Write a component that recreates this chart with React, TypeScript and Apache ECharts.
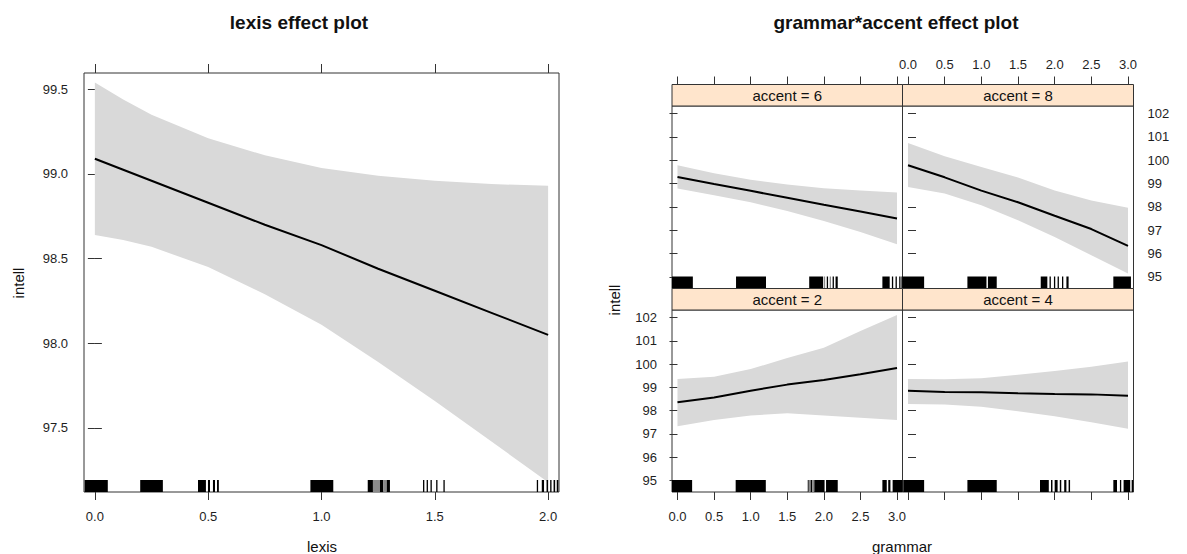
import React, { useEffect, useRef } from "react";
import * as echarts from "echarts";

const FONT = '"Liberation Sans", Arial, Helvetica, sans-serif';
const INK = "#1e1e1e";
const FRAME = "#333333";
const BAND = "#d9d9d9";
const STRIP = "#ffe5cc";

// ---- lexis effect ----
const lexisX = [0, 0.125, 0.25, 0.5, 0.75, 1, 1.25, 1.5, 1.75, 2];
const lexisFit = [99.09, 99.025, 98.96, 98.83, 98.7, 98.58, 98.44, 98.31, 98.18, 98.05];
const lexisUpper = [99.54, 99.44, 99.35, 99.21, 99.11, 99.035, 98.99, 98.96, 98.94, 98.93];
const lexisLower = [98.64, 98.61, 98.57, 98.45, 98.29, 98.11, 97.89, 97.66, 97.42, 97.18];
const lexisTicks = [0, 0.5, 1, 1.5, 2];
const lexisIntellTicks = [97.5, 98, 98.5, 99, 99.5];
// rug marks: [from, to, grey]
const lexisRug = [
  [-0.045, 0.057, 0], [0.2, 0.3, 0],
  [0.455, 0.49, 0], [0.499, 0.508, 0], [0.521, 0.53, 0], [0.539, 0.547, 0],
  [0.951, 1.052, 0],
  [1.204, 1.227, 0], [1.227, 1.258, 1], [1.258, 1.273, 0], [1.273, 1.288, 1], [1.288, 1.302, 0],
  [1.448, 1.448, 0], [1.464, 1.464, 0], [1.481, 1.484, 0], [1.506, 1.506, 0], [1.538, 1.538, 0],
  [1.95, 1.95, 0], [1.972, 1.982, 0], [1.993, 2.0, 0], [2.009, 2.015, 0], [2.024, 2.031, 0], [2.038, 2.045, 0],
];

// ---- grammar*accent effect ----
const grammarX = [0, 0.5, 1, 1.5, 2, 2.5, 3];
const grammarTicks = [0, 0.5, 1, 1.5, 2, 2.5, 3];
const accentIntellTicks = [95, 96, 97, 98, 99, 100, 101, 102];

const fit6 = [99.28, 98.98, 98.69, 98.39, 98.09, 97.8, 97.5];
const upper6 = [99.79, 99.45, 99.17, 98.96, 98.8, 98.7, 98.62];
const lower6 = [98.79, 98.5, 98.2, 97.83, 97.4, 96.92, 96.4];

const fit8 = [99.79, 99.27, 98.7, 98.2, 97.62, 97.05, 96.33];
const upper8 = [100.74, 100.17, 99.71, 99.26, 98.7, 98.28, 97.96];
const lower8 = [98.86, 98.58, 98.07, 97.43, 96.71, 95.93, 95.14];

const fit2 = [98.36, 98.57, 98.86, 99.12, 99.32, 99.57, 99.83];
const upper2 = [99.36, 99.46, 99.79, 100.26, 100.71, 101.43, 102.12];
const lower2 = [97.33, 97.6, 97.79, 97.89, 97.79, 97.69, 97.6];

const fit4 = [98.86, 98.8, 98.79, 98.75, 98.72, 98.7, 98.64];
const upper4 = [99.36, 99.35, 99.39, 99.54, 99.71, 99.89, 100.11];
const lower4 = [98.29, 98.26, 98.17, 97.97, 97.76, 97.5, 97.22];

const rug6 = [
  [-0.075, 0.21, 0], [0.8, 1.21, 0],
  [1.8, 1.99, 0], [2.0, 2.01, 1], [2.04, 2.05, 0], [2.08, 2.09, 1], [2.12, 2.13, 0], [2.16, 2.19, 0],
  [2.8, 2.9, 0], [2.93, 2.94, 0], [2.98, 2.99, 0], [3.03, 3.04, 0], [3.06, 3.075, 0],
];
const rug8 = [
  [-0.075, 0.22, 0], [0.81, 1.07, 0], [1.09, 1.21, 0],
  [1.81, 1.9, 0], [1.93, 1.94, 0], [1.99, 2.0, 0], [2.04, 2.05, 0], [2.1, 2.11, 0], [2.16, 2.19, 0],
  [2.8, 3.04, 0],
];
const rug2 = [
  [-0.075, 0.2, 0], [0.795, 1.207, 0],
  [1.78, 1.79, 0], [1.79, 1.82, 1], [1.82, 1.84, 0], [1.84, 1.87, 1], [1.87, 2.01, 0], [2.03, 2.19, 0],
  [2.8, 2.86, 0], [2.88, 2.91, 0], [2.94, 3.075, 0],
];
const rug4 = [
  [-0.065, 0.22, 0], [0.81, 1.21, 0],
  [1.8, 1.92, 0], [1.95, 1.97, 0], [2.0, 2.04, 0], [2.07, 2.09, 0], [2.13, 2.16, 0], [2.19, 2.21, 0],
  [2.8, 2.85, 0], [2.89, 2.9, 0], [2.94, 3.03, 0], [3.05, 3.07, 0],
];

const LEXIS_MIN = -0.048, LEXIS_MAX = 2.048;
const LINTELL_MIN = 97.122, LINTELL_MAX = 99.596;
const GRAM_MIN = -0.075, GRAM_MAX = 3.075;
const AINTELL_MIN = 94.5, AINTELL_MAX = 102.33;

const labelStyle = { fontFamily: FONT, fontSize: 13, color: INK };

function xAxisDef(grid: number, pos: string, min: number, max: number, ticks: number[], opts: any) {
  return {
    type: "value", gridIndex: grid, position: pos, min, max,
    offset: opts.offset || 0,
    axisLine: { show: false },
    splitLine: { show: false },
    axisTick: { show: true, length: opts.tick || 8, customValues: ticks, lineStyle: { color: FRAME, width: 1 } },
    axisLabel: {
      show: !!opts.labels, customValues: ticks, margin: opts.margin || 16,
      formatter: (v: number) => v.toFixed(1), ...labelStyle,
    },
  };
}

function yAxisDef(grid: number, pos: string, min: number, max: number, ticks: number[], opts: any) {
  return {
    type: "value", gridIndex: grid, position: pos, min, max,
    axisLine: { show: false },
    splitLine: { show: false },
    axisTick: { show: true, length: opts.tick || 8, customValues: ticks, lineStyle: { color: FRAME, width: 1 } },
    axisLabel: {
      show: !!opts.labels, customValues: ticks, margin: opts.margin || 15,
      formatter: opts.fmt || ((v: number) => String(v)), ...labelStyle,
    },
  };
}

function bandSeries(xi: number, yi: number, xs: number[], lo: number[], hi: number[]) {
  return {
    type: "custom", xAxisIndex: xi, yAxisIndex: yi, silent: true, z: 1,
    data: [[xs[0], lo[0]]],
    renderItem: (_p: any, api: any) => {
      const pts: number[][] = [];
      xs.forEach((x, i) => pts.push(api.coord([x, hi[i]])));
      for (let i = xs.length - 1; i >= 0; i--) pts.push(api.coord([xs[i], lo[i]]));
      return { type: "polygon", shape: { points: pts }, style: { fill: BAND } };
    },
  };
}

function fitSeries(xi: number, yi: number, xs: number[], fit: number[]) {
  return {
    type: "line", xAxisIndex: xi, yAxisIndex: yi, silent: true, z: 3,
    data: xs.map((x, i) => [x, fit[i]]),
    symbol: "none", smooth: false,
    lineStyle: { color: "#000", width: 2 },
  };
}

function rugSeries(xi: number, yi: number, spans: number[][], yBase: number) {
  return {
    type: "custom", xAxisIndex: xi, yAxisIndex: yi, silent: true, z: 4,
    data: [[spans[0][0], yBase]],
    renderItem: (_p: any, api: any) => ({
      type: "group",
      children: spans.map(([a, b, g]) => {
        const p0 = api.coord([a, yBase]);
        const p1 = api.coord([b, yBase]);
        const w = Math.max(p1[0] - p0[0], 1.3);
        return {
          type: "rect",
          shape: { x: p0[0], y: p0[1] - 12, width: w, height: 12 },
          style: { fill: g ? "#8a8a8a" : "#000" },
        };
      }),
    }),
  };
}

function textEl(text: string, x: number, y: number, size: number, bold = false, rotation = 0) {
  return {
    type: "text", x, y, rotation, silent: true,
    style: {
      text, fill: "#111", fontFamily: FONT, fontSize: size, fontWeight: bold ? "bold" : "normal",
      align: "center", verticalAlign: "middle", textAlign: "center", textVerticalAlign: "middle",
    },
  };
}

function stripEl(label: string, x: number, y: number, w: number, h: number) {
  return [
    {
      type: "rect", silent: true, z: 10,
      shape: { x, y, width: w, height: h },
      style: { fill: STRIP, stroke: FRAME, lineWidth: 1 },
    },
    { ...textEl(label, x + w / 2, y + h / 2 + 0.5, 15), z: 11 },
  ];
}

// right-hand panel geometry
const PL = 672, PM = 902.5, PR = 1133.5;
const STRIP_H = 21.5;
const TOP_Y = 84.5, BOT_STRIP_Y = 288.5;

export default function App() {
  const ref = useRef<HTMLDivElement>(null);

  useEffect(() => {
    if (!ref.current) return;
    const chart = echarts.init(ref.current, undefined, { renderer: "svg" });
    const gridBase = { show: true, borderColor: FRAME, borderWidth: 1, backgroundColor: "transparent", containLabel: false, outerBoundsMode: "none" };

    const option: any = {
      animation: false,
      backgroundColor: "#ffffff",
      textStyle: { fontFamily: FONT },
      grid: [
        { ...gridBase, left: 84, top: 73, width: 475, height: 419 },
        { ...gridBase, left: PL, top: TOP_Y + STRIP_H, width: PM - PL, height: BOT_STRIP_Y - TOP_Y - STRIP_H },
        { ...gridBase, left: PM, top: TOP_Y + STRIP_H, width: PR - PM, height: BOT_STRIP_Y - TOP_Y - STRIP_H },
        { ...gridBase, left: PL, top: BOT_STRIP_Y + STRIP_H, width: PM - PL, height: 492 - BOT_STRIP_Y - STRIP_H },
        { ...gridBase, left: PM, top: BOT_STRIP_Y + STRIP_H, width: PR - PM, height: 492 - BOT_STRIP_Y - STRIP_H },
      ],
      xAxis: [
        xAxisDef(0, "bottom", LEXIS_MIN, LEXIS_MAX, lexisTicks, { labels: true, margin: 18, tick: 8 }),
        xAxisDef(0, "top", LEXIS_MIN, LEXIS_MAX, lexisTicks, { tick: 9 }),
        xAxisDef(1, "top", GRAM_MIN, GRAM_MAX, grammarTicks, { offset: STRIP_H, tick: 8 }),
        xAxisDef(2, "top", GRAM_MIN, GRAM_MAX, grammarTicks, { offset: STRIP_H, tick: 8, labels: true, margin: 14 }),
        xAxisDef(3, "bottom", GRAM_MIN, GRAM_MAX, grammarTicks, { labels: true, margin: 18, tick: 8 }),
        xAxisDef(4, "bottom", GRAM_MIN, GRAM_MAX, grammarTicks, { tick: 8 }),
      ],
      yAxis: [
        yAxisDef(0, "left", LINTELL_MIN, LINTELL_MAX, lexisIntellTicks, { labels: true, margin: 16, tick: 7, fmt: (v: number) => v.toFixed(1) }),
        yAxisDef(0, "right", LINTELL_MIN, LINTELL_MAX, lexisIntellTicks, { tick: 7 }),
        yAxisDef(1, "left", AINTELL_MIN, AINTELL_MAX, accentIntellTicks, { tick: 8 }),
        yAxisDef(2, "right", AINTELL_MIN, AINTELL_MAX, accentIntellTicks, { tick: 8, labels: true, margin: 14 }),
        yAxisDef(3, "left", AINTELL_MIN, AINTELL_MAX, accentIntellTicks, { tick: 8, labels: true, margin: 15 }),
        yAxisDef(4, "right", AINTELL_MIN, AINTELL_MAX, accentIntellTicks, { tick: 8 }),
      ],
      series: [
        bandSeries(0, 0, lexisX, lexisLower, lexisUpper),
        fitSeries(0, 0, lexisX, lexisFit),
        rugSeries(0, 0, lexisRug, LINTELL_MIN),

        bandSeries(2, 2, grammarX, lower6, upper6),
        fitSeries(2, 2, grammarX, fit6),
        rugSeries(2, 2, rug6, AINTELL_MIN),

        bandSeries(3, 3, grammarX, lower8, upper8),
        fitSeries(3, 3, grammarX, fit8),
        rugSeries(3, 3, rug8, AINTELL_MIN),

        bandSeries(4, 4, grammarX, lower2, upper2),
        fitSeries(4, 4, grammarX, fit2),
        rugSeries(4, 4, rug2, AINTELL_MIN),

        bandSeries(5, 5, grammarX, lower4, upper4),
        fitSeries(5, 5, grammarX, fit4),
        rugSeries(5, 5, rug4, AINTELL_MIN),
      ],
      graphic: [
        textEl("lexis effect plot", 299, 22, 19, true),
        textEl("grammar*accent effect plot", 896, 22, 19, true),
        textEl("lexis", 322, 546, 15),
        textEl("intell", 18, 283, 15, false, Math.PI / 2),
        textEl("grammar", 902, 546, 15),
        textEl("intell", 614, 300, 15, false, Math.PI / 2),
        ...stripEl("accent = 6", PL, TOP_Y, PM - PL, STRIP_H),
        ...stripEl("accent = 8", PM, TOP_Y, PR - PM, STRIP_H),
        ...stripEl("accent = 2", PL, BOT_STRIP_Y, PM - PL, STRIP_H),
        ...stripEl("accent = 4", PM, BOT_STRIP_Y, PR - PM, STRIP_H),
      ],
    };

    chart.setOption(option);
    return () => chart.dispose();
  }, []);

  return (
    <div
      ref={ref}
      style={{ position: "absolute", left: 0, top: 0, width: 1187, height: 554, background: "#fff" }}
    />
  );
}
